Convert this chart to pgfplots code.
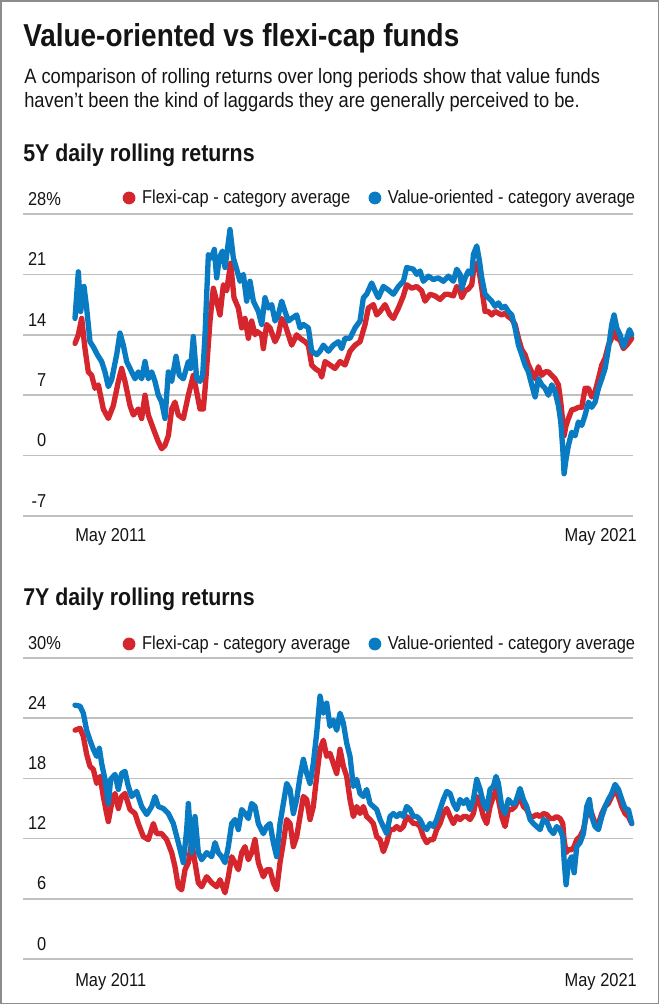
\documentclass[border=0pt]{standalone}
\usepackage{fontspec}
\setmainfont{Liberation Sans}[FakeStretch=0.88]
\usepackage{pgfplots}
\usepackage{pgfplotstable}
\pgfplotsset{compat=1.18}
\definecolor{fcred}{RGB}{213,37,45}
\definecolor{voblue}{RGB}{8,123,195}
\definecolor{gridgray}{RGB}{192,192,192}
\definecolor{framegray}{RGB}{140,140,140}
\definecolor{txt}{RGB}{20,20,20}
\newcommand\titlefont{\fontsize{23.8pt}{28pt}\selectfont\bfseries}
\newcommand\subfont{\fontsize{15.6pt}{18pt}\selectfont}
\newcommand\headfont{\fontsize{18.2pt}{21pt}\selectfont\bfseries}
\newcommand\labfont{\fontsize{14pt}{16pt}\selectfont}

% 5Y rolling returns, x = months since May 2011
\pgfplotstableread{
m v
0 15.9
0.72 21.3
1.22 16.7
1.94 19.6
2.51 17.1
3.23 13.2
3.95 12.6
4.81 11.7
5.74 10.9
6.46 9.7
7.18 8.0
7.90 8.8
8.98 11.7
9.69 14.2
10.41 12.8
11.13 10.9
12.21 9.7
12.93 8.9
13.64 9.7
14.36 8.9
15.08 10.9
15.80 8.9
16.52 9.7
17.23 8.6
17.95 7.0
18.67 6.2
19.39 4.3
19.75 7.0
20.11 9.7
20.83 8.6
21.76 11.5
22.48 9.3
23.34 8.9
24.42 10.9
24.92 10.1
25.49 13.8
26.21 8.9
26.93 8.6
27.50 9.3
28.01 14.0
28.37 18.7
28.73 23.3
29.44 22.9
30.02 23.9
30.52 20.6
31.09 22.9
31.74 23.7
32.32 21.8
33.39 26.2
34.11 22.9
34.83 21.6
35.55 20.2
36.27 21.0
36.98 17.9
37.70 20.2
38.42 17.9
39.50 16.7
40.21 15.2
40.93 18.3
41.65 17.1
42.37 17.5
43.09 15.6
43.80 16.3
44.52 17.9
45.24 16.7
45.96 15.6
46.68 15.9
47.75 16.3
48.47 14.8
49.19 15.2
50.27 14.8
50.99 12.1
52.06 11.7
52.78 12.1
53.50 12.8
54.58 12.1
55.65 12.8
56.73 13.2
57.45 12.4
58.17 13.6
59.24 13.6
60.32 14.8
61.40 15.6
62.12 18.3
62.83 18.7
63.91 20.0
64.63 19.1
65.35 18.3
66.42 19.6
67.50 19.2
68.58 18.7
69.66 19.6
70.73 20.2
71.45 21.8
72.89 21.6
73.61 21.0
74.32 21.4
75.04 20.2
76.12 20.8
77.20 20.4
78.27 20.6
79.35 20.2
80.44 20.8
81.51 20.2
82.23 21.6
82.95 21.0
83.31 19.4
84.03 20.6
84.74 21.4
85.46 21.0
85.82 23.3
86.54 24.3
87.11 22.6
87.62 20.6
88.33 18.7
89.05 18.3
89.77 17.9
90.49 17.3
91.21 17.7
91.92 17.1
92.64 17.3
93.36 16.7
94.08 16.3
94.80 14.8
95.52 12.8
96.23 11.7
96.95 10.5
97.67 9.7
98.39 8.2
99.11 6.8
99.82 8.9
100.54 8.2
101.26 7.8
101.98 7.0
102.70 8.2
103.41 7.4
104.13 5.8
104.64 3.9
105.07 0.8
105.35 -2.1
105.78 -0.4
106.29 1.2
107.00 2.7
107.72 2.3
108.44 3.9
109.16 3.5
109.88 4.7
110.60 6.2
111.31 5.6
112.03 6.2
112.75 7.8
113.47 8.9
114.19 10.1
114.90 12.4
115.62 15.2
116.12 16.3
116.70 14.8
117.42 14.0
118.13 12.6
118.85 13.6
119.43 14.6
119.93 14.0
}\blueA

\pgfplotstableread{
m v
0 13.0
0.72 14.0
1.44 15.9
2.15 12.4
2.87 9.7
3.59 9.3
4.31 7.8
5.03 8.2
6.10 5.4
7.18 4.3
8.26 5.8
9.34 8.6
10.05 10.1
10.77 8.6
11.85 5.8
12.57 4.7
13.64 5.4
14.36 4.3
15.08 7.0
15.80 4.7
16.88 3.1
17.95 1.6
18.67 0.8
19.39 1.2
20.11 2.3
20.83 5.4
21.54 6.2
22.26 4.7
23.34 4.3
24.42 7.0
25.49 9.3
26.21 7.4
26.93 5.4
27.65 5.4
28.15 8.6
29.08 15.6
29.80 19.4
30.52 17.9
31.24 16.3
31.96 19.8
32.67 19.1
33.53 22.3
34.25 18.3
35.19 17.1
35.91 14.8
36.62 15.9
37.34 13.6
38.06 15.6
38.78 14.0
39.14 14.4
40.21 14.0
40.57 12.4
41.29 15.2
42.01 14.8
43.09 13.2
43.80 14.0
44.52 15.9
45.24 15.2
45.96 14.0
46.68 12.8
47.75 14.0
48.47 13.6
49.55 13.2
50.27 12.8
50.99 10.5
51.70 10.1
52.78 9.7
53.14 9.1
53.86 10.9
54.94 10.5
56.01 10.1
57.09 10.9
58.17 10.5
59.24 12.1
60.32 12.8
61.40 13.2
62.48 15.2
63.19 17.1
64.27 17.5
64.99 16.3
65.71 16.7
66.78 17.5
67.86 16.3
68.58 15.9
69.66 17.1
70.73 18.5
71.45 19.8
72.53 19.4
73.61 19.6
74.68 19.1
75.40 17.9
76.48 18.7
77.56 18.5
78.64 18.1
79.71 18.7
80.44 18.7
81.51 18.5
82.23 19.6
82.95 19.1
83.31 18.3
84.03 19.1
84.74 19.3
85.46 19.8
85.82 21.3
86.54 22.3
87.11 21.2
87.62 19.4
88.33 16.7
89.05 16.7
89.77 16.3
90.49 16.7
91.21 16.5
91.92 16.3
92.64 16.5
93.36 16.1
94.08 15.8
94.80 15.2
95.52 13.6
96.23 12.3
96.95 11.7
97.67 10.5
98.39 9.7
99.11 8.9
99.82 10.3
100.54 9.3
101.26 9.7
101.98 9.7
102.70 9.3
103.41 8.9
104.13 8.2
104.64 6.2
105.07 3.9
105.35 2.3
105.78 3.5
106.29 4.3
107.00 5.3
107.72 5.4
108.44 5.6
109.16 5.6
109.88 7.8
110.60 7.8
111.31 6.8
112.03 7.4
112.75 8.9
113.47 10.5
114.19 11.3
114.90 12.8
115.62 13.6
116.12 14.4
116.70 13.6
117.42 13.4
118.13 12.4
118.85 12.8
119.43 13.2
119.93 13.6
}\redA

% 7Y rolling returns
\pgfplotstableread{
m v
0 25.3
1.08 25.2
1.79 24.5
2.51 22.8
3.23 21.8
3.95 20.9
4.67 20.2
5.24 21.0
5.74 19.5
6.46 17.9
7.18 15.5
7.68 17.9
8.62 18.4
9.34 16.9
10.05 18.5
10.77 18.7
11.49 17.2
12.21 16.2
13.28 16.7
14.36 15.2
15.44 14.4
16.52 15.2
17.23 16.2
17.95 15.2
19.03 15.0
20.11 14.5
21.18 13.5
22.26 11.6
23.34 9.6
24.06 12.9
24.42 15.5
25.13 10.6
25.85 14.2
26.57 10.6
27.29 9.9
28.37 10.6
29.44 10.2
30.16 11.6
30.88 10.6
31.60 10.2
32.32 9.6
33.03 11.2
33.75 13.5
34.47 13.9
35.19 12.9
35.91 14.9
36.62 14.5
37.34 14.0
38.06 15.5
38.78 15.2
39.50 13.5
40.57 12.5
41.29 13.2
42.01 13.5
42.73 11.6
43.44 10.2
44.16 13.5
44.88 15.5
45.60 17.5
46.32 16.9
47.04 14.5
47.75 15.9
48.47 18.2
49.19 19.9
49.91 18.5
50.63 17.5
51.34 19.5
52.06 22.5
52.78 26.2
53.50 24.5
54.22 25.5
54.93 23.2
55.65 23.8
56.37 22.8
57.09 24.5
57.81 23.5
58.53 21.5
59.24 20.2
59.96 17.2
60.68 17.9
61.40 16.5
62.12 16.2
62.83 16.9
63.55 15.5
64.27 15.2
64.99 14.9
65.71 13.9
66.42 13.2
67.14 12.5
67.86 14.2
68.58 14.5
69.30 14.2
70.02 14.5
70.73 14.2
71.45 15.2
72.17 14.9
72.89 14.2
73.61 14.2
74.32 13.9
75.04 13.2
75.76 12.9
76.48 13.5
77.20 13.2
77.91 13.9
78.63 14.9
79.35 15.9
80.08 16.7
80.79 16.5
81.51 15.5
82.23 14.9
82.95 15.9
83.67 15.5
84.38 15.9
85.10 14.9
85.82 15.9
86.54 17.9
87.26 16.9
87.98 15.5
88.69 14.9
89.41 16.9
90.13 17.2
90.70 18.2
91.21 17.5
91.92 15.2
92.64 14.5
93.36 15.9
94.08 15.5
94.80 15.5
95.87 17.0
96.59 15.9
97.31 15.2
98.03 13.9
98.75 13.5
99.46 13.2
100.18 12.9
100.90 13.9
101.62 13.7
102.34 12.9
103.06 12.5
103.77 13.2
104.49 12.9
105.07 12.2
105.35 9.9
105.78 7.4
106.29 9.6
107.00 10.2
107.51 8.6
108.08 11.2
108.80 11.6
109.52 12.5
110.24 15.2
110.81 15.9
111.31 14.2
112.03 13.2
112.75 12.9
113.47 14.2
114.19 15.2
114.90 15.9
115.62 16.5
116.34 17.4
117.06 16.9
117.78 15.9
118.49 15.0
119.21 14.9
119.93 13.5
}\blueB

\pgfplotstableread{
m v
0 22.8
1.08 23.0
1.79 22.2
2.51 20.4
3.23 19.2
3.95 18.9
4.67 17.5
5.39 18.2
6.10 16.2
6.82 14.5
7.18 13.7
7.90 15.5
8.62 16.5
9.34 15.0
10.05 16.2
10.77 16.5
11.85 14.9
12.93 14.5
13.64 13.5
14.72 12.2
15.80 11.9
16.88 13.5
17.59 12.5
18.67 12.5
19.75 11.9
20.83 10.6
21.54 9.2
22.26 7.2
22.98 6.9
23.70 8.9
24.42 9.6
25.13 11.6
25.85 9.6
26.57 7.6
27.29 7.2
28.37 8.2
29.44 7.6
30.52 7.2
31.24 7.9
32.32 6.6
33.03 8.2
33.75 10.2
34.47 9.6
35.19 8.9
35.91 10.6
36.62 11.2
37.34 9.9
38.06 10.6
38.78 11.9
39.50 9.6
40.57 8.2
41.29 8.9
42.01 8.9
42.73 7.6
43.44 6.9
44.16 9.6
44.88 11.6
45.60 13.9
46.32 13.5
47.04 11.2
47.75 12.2
48.47 14.2
49.19 16.2
49.91 15.9
50.63 13.9
51.34 15.2
52.06 18.2
52.78 20.9
53.50 21.8
54.22 20.2
54.93 20.5
55.65 19.5
56.37 18.5
57.09 20.9
57.81 19.2
58.53 18.2
59.24 15.9
59.96 14.2
60.68 15.2
61.40 14.5
62.12 15.2
62.83 14.2
63.55 13.9
64.27 13.5
64.99 12.2
65.71 11.9
66.42 10.7
67.14 11.6
67.86 12.9
68.58 12.9
69.30 13.2
70.02 12.9
70.73 13.2
71.45 14.2
72.17 13.9
72.89 13.5
73.61 13.5
74.32 13.2
75.04 12.2
75.76 11.6
76.48 11.9
77.20 11.9
77.91 12.9
78.63 13.5
79.35 14.5
80.08 15.0
80.79 14.2
81.51 13.5
82.23 14.2
82.95 13.9
83.67 14.2
84.38 14.2
85.10 13.9
85.82 14.5
86.54 16.2
87.26 15.5
87.98 14.2
88.69 13.5
89.41 15.2
90.13 16.2
90.70 16.9
91.21 15.9
91.92 14.2
92.64 13.2
93.36 14.9
94.08 14.9
94.80 15.2
95.87 16.2
96.59 15.2
97.31 14.9
98.03 14.2
98.75 14.2
99.46 14.4
100.18 14.2
100.90 14.5
101.62 14.4
102.34 14.0
103.06 14.0
103.77 14.2
104.49 14.0
105.07 13.5
105.35 11.9
105.78 10.6
106.29 10.9
107.00 10.9
107.51 11.2
108.08 11.9
108.80 12.2
109.52 12.9
110.24 14.5
110.81 15.2
111.31 14.5
112.03 13.5
112.75 13.5
113.47 14.5
114.19 15.2
114.90 15.5
115.62 16.2
116.34 16.9
117.06 16.2
117.78 15.2
118.49 14.5
119.21 14.2
119.93 13.5
}\redB

\pgfplotsset{
  rollchart/.style={
    scale only axis, width=457.5pt,
    xmin=-11.2, xmax=120.2,
    axis line style={draw=none},
    major tick length=0pt,
    ymajorgrids,
    grid style={gridgray, line width=1.3pt},
    yticklabel style={anchor=south east, xshift=21pt, yshift=3pt, font=\labfont, text=txt},
    xtick={0}, xticklabels={May 2011},
    xticklabel style={anchor=north west, inner sep=0pt, font=\labfont, text=txt},
    extra x ticks={120}, extra x tick labels={May 2021},
    extra x tick style={xticklabel style={anchor=north east, xshift=3.75pt}},
    clip=false,
    legend columns=2,
    legend cell align=left,
    legend style={at={(rel axis cs:1,1)}, anchor=south east, xshift=3.75pt,
      draw=none, fill=none, inner sep=0pt, font=\labfont, text=txt,
      /tikz/every even column/.append style={column sep=11.7pt}},
    legend image code/.code={\fill[##1,draw=none] (0pt,0pt) circle (4.8pt); \path[draw=none,fill=none] (-4.8pt,0pt) rectangle (7.75pt,0.1pt);},
  },
  rollline/.style={line width=4pt, line join=round, line cap=round, mark=none},
}

\begin{document}
\begin{tikzpicture}
\begin{scope}[x=0.75pt,y=-0.75pt]
\useasboundingbox (0,0) rectangle (660,1005);
\draw[framegray, line width=1.2pt] (1,1) rectangle (658.6,1003.6);
\node[anchor=base west, inner sep=0pt, text=txt] at (23,47) {\titlefont Value-oriented vs flexi-cap funds};
\node[anchor=base west, inner sep=0pt, text=txt] at (24,84) {\subfont A comparison of rolling returns over long periods show that value funds};
\node[anchor=base west, inner sep=0pt, text=txt] at (24,108) {\subfont haven’t been the kind of laggards they are generally perceived to be.};
\node[anchor=base west, inner sep=0pt, text=txt] at (23,162) {\headfont 5Y daily rolling returns};
\node[anchor=base west, inner sep=0pt, text=txt] at (23,605) {\headfont 7Y daily rolling returns};
\end{scope}

\begin{axis}[rollchart,
  at={(17.25pt,-387pt)}, anchor=south west,
  height=226.5pt,
  ymin=-7, ymax=28,
  ytick={-7,0,7,14,21,28},
  yticklabels={-7,0,7,14,21,28\rlap{\%}},
  xticklabel style={yshift=-9pt},
  legend style={yshift=4pt},
]
\addplot[rollline, fcred] table[x=m, y=v] {\redA};
\addlegendentry{Flexi-cap - category average}
\addplot[rollline, voblue] table[x=m, y=v] {\blueA};
\addlegendentry{Value-oriented - category average}
\end{axis}

\begin{axis}[rollchart,
  at={(17.25pt,-719.25pt)}, anchor=south west,
  height=225.75pt,
  ymin=0, ymax=30,
  ytick={0,6,12,18,24,30},
  yticklabels={0,6,12,18,24,30\rlap{\%}},
  xticklabel style={yshift=-10.5pt},
  legend style={yshift=2.5pt},
]
\addplot[rollline, fcred] table[x=m, y=v] {\redB};
\addlegendentry{Flexi-cap - category average}
\addplot[rollline, voblue] table[x=m, y=v] {\blueB};
\addlegendentry{Value-oriented - category average}
\end{axis}
\end{tikzpicture}
\end{document}
